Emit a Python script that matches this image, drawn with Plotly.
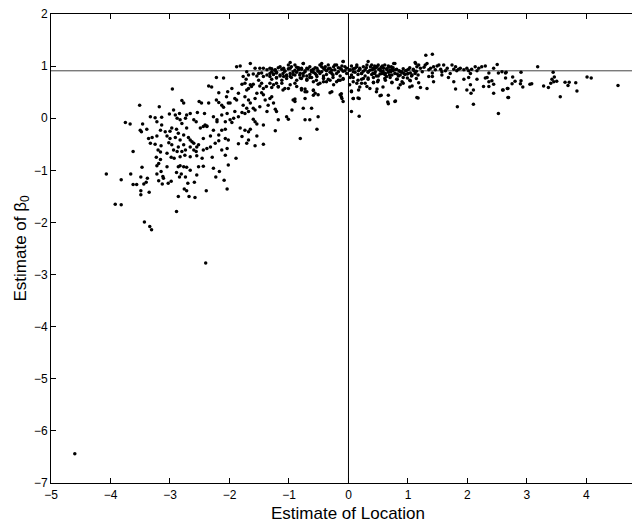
import plotly.graph_objects as go

# Estimates (location, beta0), grouped by region
upper_left = [
    (-2.22, 0.78), (-2.10, 0.77), (-2.96, 0.56), (-2.35, 0.62), (-2.30, 0.60), (-2.18, 0.49), (-2.03, 0.51),
    (-2.05, 0.41), (-3.51, 0.25), (-3.18, 0.22), (-2.80, 0.34), (-2.77, 0.29), (-2.51, 0.32), (-2.47, 0.29),
    (-2.35, 0.29), (-2.22, 0.35), (-2.18, 0.30), (-2.13, 0.25), (-2.10, 0.21), (-2.02, 0.29), (-2.94, 0.16),
    (-2.84, 0.09), (-3.33, 0.03), (-3.25, 0.01), (-3.14, 0.02), (-3.01, 0.08), (-2.91, 0.06), (-2.72, 0.06),
    (-2.66, 0.09), (-2.54, 0.11), (-2.42, 0.09), (-2.27, 0.03), (-2.21, -0.03), (-2.13, 0.06), (-2.04, 0.09),
    (-3.75, -0.08), (-3.67, -0.11), (-3.46, -0.11), (-3.22, -0.07), (-3.14, -0.13), (-2.88, 0.00), (-2.83, -0.03),
    (-2.80, -0.10), (-2.74, 0.00), (-2.60, -0.03), (-2.56, -0.07), (-2.41, -0.13), (-2.38, -0.16), (-2.21, -0.07),
    (-2.07, -0.07), (-3.50, -0.23), (-3.48, -0.26), (-3.39, -0.21), (-3.16, -0.23), (-3.08, -0.26), (-3.00, -0.25),
    (-2.97, -0.19), (-2.89, -0.21), (-2.86, -0.29), (-2.72, -0.19), (-2.49, -0.19), (-2.44, -0.16), (-2.38, -0.15),
    (-2.27, -0.23), (-2.13, -0.23), (-2.07, -0.21), (-3.36, -0.39), (-3.30, -0.37), (-3.22, -0.34), (-3.05, -0.34),
    (-3.00, -0.39), (-2.91, -0.37), (-2.83, -0.42), (-2.77, -0.32), (-2.69, -0.37), (-2.66, -0.42), (-2.63, -0.45),
    (-2.60, -0.48), (-2.44, -0.39), (-2.32, -0.34), (-2.18, -0.32), (-2.07, -0.39), (-2.02, -0.42), (-3.33, -0.48),
    (-3.25, -0.50), (-3.15, -0.53), (-3.02, -0.47), (-2.97, -0.51), (-2.86, -0.55), (-2.77, -0.51), (-2.66, -0.55),
    (-2.60, -0.61), (-2.55, -0.55), (-2.52, -0.51), (-2.38, -0.58), (-2.32, -0.55), (-2.24, -0.48), (-2.18, -0.43),
    (-3.62, -0.64), (-3.20, -0.61), (-3.16, -0.65), (-3.05, -0.67), (-2.94, -0.61), (-2.88, -0.64), (-2.80, -0.64),
    (-2.74, -0.61), (-2.56, -0.64), (-2.44, -0.61), (-2.13, -0.61), (-2.04, -0.58), (-3.23, -0.75), (-3.16, -0.79),
    (-2.98, -0.75), (-2.93, -0.77), (-2.83, -0.74), (-2.75, -0.71), (-2.66, -0.74), (-2.55, -0.72), (-2.46, -0.77),
    (-2.29, -0.75), (-2.07, -0.71), (-3.47, -0.94), (-3.22, -0.91), (-3.19, -0.87), (-3.05, -0.93), (-2.86, -0.93),
    (-2.83, -0.91), (-2.77, -0.93), (-2.72, -0.94), (-2.52, -0.93), (-2.44, -0.92), (-2.27, -0.96), (-2.02, -0.90),
]

lower_left = [
    (-4.07, -1.07), (-3.66, -1.07), (-3.49, -1.13), (-3.38, -1.15), (-3.22, -1.07), (-3.15, -1.02), (-3.12, -1.12),
    (-3.11, -1.15), (-2.89, -1.04), (-2.81, -1.07), (-2.84, -1.13), (-2.74, -1.13), (-2.66, -1.00), (-2.55, -1.09),
    (-2.23, -1.13), (-2.17, -1.02), (-2.09, -1.19), (-2.04, -1.36), (-3.82, -1.18), (-3.62, -1.27), (-3.56, -1.27),
    (-3.44, -1.26), (-3.40, -1.23), (-3.19, -1.20), (-3.13, -1.26), (-3.03, -1.25), (-2.98, -1.21), (-2.70, -1.25),
    (-2.59, -1.23), (-2.76, -1.36), (-2.72, -1.39), (-2.86, -1.50), (-2.68, -1.50), (-2.58, -1.52), (-2.39, -1.39),
    (-3.49, -1.39), (-3.35, -1.42), (-3.49, -1.47), (-3.92, -1.65), (-3.82, -1.66), (-2.89, -1.79), (-3.43, -1.99),
    (-3.34, -2.08), (-3.31, -2.14), (-2.40, -2.78), (-4.60, -6.44),
]

center = [
    (-1.88, 0.99), (-1.82, 1.00), (-1.65, 1.05), (-1.57, 0.96), (-1.49, 0.96), (-1.43, 0.96), (-1.37, 0.93),
    (-1.32, 0.96), (-1.29, 0.89), (-1.23, 0.93), (-1.21, 0.87), (-1.15, 0.99), (-1.09, 0.96), (-1.07, 0.91),
    (-1.01, 1.02), (-0.98, 0.96), (-0.93, 0.89), (-0.90, 1.02), (-0.87, 0.98), (-0.84, 0.93), (-0.81, 0.86),
    (-0.79, 0.96), (-0.76, 1.05), (-0.73, 0.91), (-0.70, 0.96), (-0.65, 0.99), (-0.62, 0.89), (-0.59, 0.94),
    (-0.56, 0.86), (-0.53, 0.96), (-0.51, 0.91), (-0.48, 1.02), (-0.45, 0.89), (-0.42, 0.96), (-0.39, 0.99),
    (-0.37, 0.91), (-0.34, 1.02), (-0.31, 0.96), (-0.28, 0.86), (-0.25, 0.99), (-0.23, 0.93), (-0.20, 1.02),
    (-0.17, 0.89), (-0.14, 0.96), (-0.11, 1.00), (-0.09, 1.09), (-0.06, 0.91), (-0.03, 0.96), (0.03, 0.93),
    (0.05, 1.00), (0.08, 0.89), (0.11, 0.96), (0.14, 1.02), (0.17, 0.91), (0.19, 0.96), (0.22, 0.86),
    (0.25, 0.99), (0.28, 0.93), (0.31, 1.02), (0.33, 0.89),
    (-1.71, 0.89), (-1.68, 0.83), (-1.60, 0.85), (-1.54, 0.81), (-1.51, 0.86), (-1.46, 0.87), (-1.43, 0.80),
    (-1.37, 0.83), (-1.32, 0.80), (-1.26, 0.85), (-1.21, 0.77), (-1.15, 0.81), (-1.09, 0.80), (-1.04, 0.83),
    (-0.98, 0.80), (-0.90, 0.83), (-0.81, 0.77), (-0.76, 0.81), (-0.70, 0.73), (-0.65, 0.78), (-0.59, 0.70),
    (-0.53, 0.80), (-0.48, 0.67), (-0.42, 0.77), (-0.37, 0.70), (-0.31, 0.73), (-0.25, 0.64), (-0.20, 0.70),
    (-0.14, 0.73), (-0.09, 0.75), (0.03, 0.78), (0.08, 0.70), (0.14, 0.67), (0.22, 0.75), (0.28, 0.67),
    (0.33, 0.77),
    (-1.77, 0.80), (-1.72, 0.75), (-1.74, 0.67), (-1.79, 0.65), (-1.65, 0.64), (-1.60, 0.65), (-1.63, 0.61),
    (-1.68, 0.57), (-1.71, 0.54), (-1.51, 0.73), (-1.46, 0.67), (-1.49, 0.62), (-1.43, 0.57), (-1.38, 0.61),
    (-1.32, 0.67), (-1.29, 0.59), (-1.21, 0.67), (-1.18, 0.61), (-1.12, 0.67), (-1.07, 0.57), (-0.98, 0.64),
    (-0.87, 0.61), (-0.79, 0.54), (-0.73, 0.56), (-0.70, 0.51), (-0.59, 0.53), (-0.56, 0.48), (-0.51, 0.45),
    (-0.31, 0.49), (-0.14, 0.45), (-0.11, 0.38), (-0.09, 0.32), (0.05, 0.51), (0.08, 0.38), (0.17, 0.54),
    (0.18, 0.38), (0.31, 0.61),
    (-1.96, 0.57), (-1.91, 0.38), (-1.88, 0.35), (-1.99, 0.29), (-1.85, 0.48), (-1.74, 0.41), (-1.68, 0.35),
    (-1.65, 0.29), (-1.57, 0.38), (-1.54, 0.48), (-1.46, 0.49), (-1.43, 0.45), (-1.40, 0.35), (-1.32, 0.38),
    (-1.29, 0.41), (-1.26, 0.29), (-1.35, 0.25), (-1.49, 0.22), (-1.60, 0.19), (-1.57, 0.16), (-1.77, 0.25),
    (-1.71, 0.19), (-1.79, 0.11), (-1.74, 0.09), (-1.68, 0.13), (-1.91, 0.13), (-1.85, 0.03), (-1.93, 0.00),
    (-1.99, -0.03), (-1.96, -0.08), (-1.82, -0.19), (-1.74, -0.23), (-1.68, -0.26), (-1.65, -0.21), (-1.60, -0.02),
    (-1.57, -0.07), (-1.54, -0.11), (-1.43, -0.13), (-1.37, 0.13), (-1.23, 0.17), (-1.21, 0.13), (-1.18, -0.03),
    (-1.04, 0.03), (-1.01, -0.02), (-0.95, 0.16), (-0.93, 0.35), (-0.90, 0.32), (-0.76, 0.19), (-0.73, -0.03),
    (-0.65, -0.03), (-0.62, 0.19), (-0.51, 0.03), (-0.53, -0.21), (-1.23, -0.24), (-0.81, -0.39), (-1.79, -0.35),
    (-1.68, -0.42), (-1.54, -0.34), (-1.43, -0.50), (-1.57, -0.53), (-1.85, -0.49), (-1.71, -0.48), (-1.89, -0.77),
    (0.05, 0.13), (0.18, 0.04),
]

band = [
    (-1.29, 0.95), (-1.24, 0.92), (-1.18, 0.97), (-1.12, 0.94), (-1.07, 0.90), (-1.01, 0.95), (-0.96, 0.99),
    (-0.90, 0.92), (-0.84, 0.97), (-0.79, 0.94), (-0.73, 0.89), (-0.68, 0.95), (-0.62, 0.92), (-0.56, 0.97),
    (-0.51, 0.90), (-0.45, 0.99), (-0.40, 0.94), (-0.34, 0.95), (-0.28, 0.92), (-0.23, 1.02), (-0.17, 0.97),
    (-0.12, 0.94), (-0.06, 0.99), (0.02, 0.92), (0.08, 0.95), (0.14, 0.99), (0.19, 0.94), (0.25, 0.90),
    (0.30, 0.97), (0.36, 0.92), (0.42, 0.95), (0.47, 0.99), (0.53, 0.94), (0.58, 0.90), (0.64, 0.95),
    (0.70, 0.92), (0.75, 0.97), (0.81, 0.94), (0.86, 0.90), (0.92, 0.95), (0.98, 0.92), (1.03, 0.97),
    (1.09, 0.94), (1.14, 0.90),
    (-1.32, 0.86), (-1.26, 0.84), (-1.21, 0.88), (-1.15, 0.83), (-1.10, 0.86), (-1.04, 0.81), (-0.98, 0.86),
    (-0.93, 0.84), (-0.87, 0.88), (-0.82, 0.83), (-0.76, 0.86), (-0.70, 0.81), (-0.65, 0.84), (-0.59, 0.88),
    (-0.54, 0.83), (-0.48, 0.86), (-0.42, 0.81), (-0.37, 0.84), (-0.31, 0.88), (-0.26, 0.83), (-0.20, 0.86),
    (-0.14, 0.81), (-0.09, 0.90), (-0.03, 0.86), (0.05, 0.83), (0.11, 0.88), (0.16, 0.84), (0.22, 0.86),
    (0.28, 0.81), (0.33, 0.88), (0.39, 0.84), (0.44, 0.86), (0.50, 0.81), (0.56, 0.86), (0.61, 0.84),
    (0.67, 0.88), (0.73, 0.83), (0.78, 0.86), (0.84, 0.81), (0.89, 0.88), (0.95, 0.84), (1.00, 0.86),
    (1.06, 0.81), (1.12, 0.86), (1.17, 0.83),
    (-1.29, 0.75), (-1.21, 0.78), (-1.12, 0.73), (-1.04, 0.76), (-0.96, 0.78), (-0.87, 0.73), (-0.79, 0.76),
    (-0.70, 0.75), (-0.62, 0.78), (-0.54, 0.73), (-0.42, 0.76), (-0.34, 0.75), (-0.26, 0.78), (-0.17, 0.73),
    (-0.09, 0.76), (0.08, 0.78), (0.16, 0.73), (0.25, 0.76), (0.33, 0.75), (0.42, 0.78), (0.50, 0.73),
    (0.61, 0.76), (0.70, 0.78), (0.81, 0.75), (0.92, 0.78), (1.03, 0.73), (1.14, 0.76),
    (-0.98, 1.07), (-0.76, 1.05), (-0.09, 1.09), (0.33, 1.09), (0.78, 1.05), (1.12, 1.07), (-0.45, 1.05),
    (-1.26, 0.64), (-1.18, 0.60), (-1.10, 0.54), (-1.01, 0.57), (-0.90, 0.67), (-0.79, 0.57), (-0.73, 0.51),
    (-0.59, 0.54), (-0.51, 0.65), (-0.42, 0.70), (-0.28, 0.51), (-0.12, 0.47), (-0.12, 0.41), (0.02, 0.64),
    (0.05, 0.52), (0.19, 0.60), (0.22, 0.67), (0.36, 0.57), (0.42, 0.69), (0.47, 0.51), (0.58, 0.60),
    (0.67, 0.44), (0.73, 0.69), (0.84, 0.58), (0.92, 0.67), (1.03, 0.60), (1.17, 0.39), (-0.90, 0.37),
    (-0.73, 0.38), (-0.59, 0.44), (0.08, 0.38), (0.16, 0.39), (0.53, 0.43), (0.78, 0.32), (0.67, 0.28),
]

right = [
    (0.37, 0.99), (0.40, 0.93), (0.42, 0.96), (0.45, 0.89), (0.48, 0.99), (0.51, 0.94), (0.54, 0.91),
    (0.57, 1.00), (0.59, 0.96), (0.62, 0.86), (0.65, 0.93), (0.68, 0.98), (0.71, 0.89), (0.73, 0.94),
    (0.76, 1.05), (0.41, 0.86), (0.47, 0.81), (0.53, 0.85), (0.58, 0.87), (0.64, 0.80), (0.69, 0.83),
    (0.75, 0.91), (0.39, 1.02), (0.44, 1.00), (0.50, 1.02), (0.55, 0.98), (0.61, 1.02), (0.67, 1.00),
    (0.72, 0.99), (0.45, 0.96),
    (0.79, 0.93), (0.82, 0.85), (0.85, 0.91), (0.87, 0.83), (0.90, 0.89), (0.93, 0.86), (0.96, 0.91),
    (0.99, 0.85), (1.01, 0.94), (1.04, 0.87), (1.07, 0.83), (1.10, 0.91), (1.13, 1.05), (1.15, 0.99),
    (1.18, 1.02), (1.21, 0.96), (1.24, 0.89), (1.27, 0.98), (1.29, 1.02), (1.30, 1.21), (1.32, 1.05),
    (1.35, 0.93), (1.38, 0.96), (1.41, 1.23), (1.41, 0.87), (1.43, 0.99), (1.46, 0.93), (1.49, 1.00),
    (1.52, 1.02), (1.55, 0.94), (1.57, 0.89), (1.60, 1.02), (1.63, 0.91), (1.66, 0.96), (1.71, 0.86),
    (1.74, 1.02), (1.77, 0.94), (1.80, 0.99), (1.82, 0.91), (1.85, 0.94), (1.88, 0.96), (1.94, 0.93),
    (1.99, 0.96), (2.02, 0.91), (2.05, 0.86), (2.07, 0.94), (2.13, 0.99), (2.16, 0.91), (2.19, 0.96),
    (2.24, 0.99), (2.30, 1.00), (2.36, 0.87), (2.44, 0.96), (2.50, 1.03), (2.52, 0.87), (2.58, 0.89),
    (2.64, 0.87),
    (0.42, 0.68), (0.49, 0.70), (0.48, 0.56), (0.55, 0.44), (0.62, 0.73), (0.66, 0.31), (0.73, 0.68),
    (0.79, 0.33), (0.82, 0.75), (0.87, 0.64), (0.90, 0.70), (0.99, 0.77), (1.04, 0.72), (1.07, 0.62),
    (1.15, 0.40), (1.18, 0.68), (1.21, 0.59), (1.32, 0.57), (1.35, 0.80), (1.41, 0.80), (1.43, 0.70),
    (1.57, 0.83), (1.68, 0.78), (1.77, 0.70), (1.80, 0.56), (1.83, 0.22), (1.94, 0.75), (1.99, 0.54),
    (2.02, 0.78), (2.05, 0.64), (2.06, 0.48), (2.10, 0.54), (2.10, 0.27), (2.16, 0.75), (2.27, 0.61),
    (2.30, 0.77), (2.33, 0.78), (2.36, 0.70), (2.36, 0.61), (2.41, 0.72), (2.44, 0.65), (2.44, 0.48),
    (2.52, 0.09), (2.60, 0.54), (2.64, 0.77), (2.67, 0.57), (2.69, 0.40),
    (3.18, 0.99), (2.65, 0.88), (2.90, 0.88), (3.44, 0.88), (2.76, 0.79), (2.80, 0.71), (2.90, 0.72),
    (2.75, 0.66), (2.89, 0.66), (2.93, 0.60), (2.68, 0.57), (2.59, 0.54), (2.68, 0.40), (3.05, 0.65),
    (3.08, 0.66), (3.28, 0.62), (3.36, 0.59), (3.40, 0.67), (3.42, 0.75), (3.46, 0.79), (3.45, 0.70),
    (3.50, 0.71), (3.64, 0.69), (3.71, 0.69), (3.69, 0.63), (3.82, 0.68), (3.84, 0.52), (3.56, 0.41),
    (4.01, 0.79), (4.08, 0.77), (4.53, 0.63),
]

ref_location = 0.0
ref_beta0 = 0.91

x_ticks = [-5, -4, -3, -2, -1, 0, 1, 2, 3, 4]
y_ticks = [-7, -6, -5, -4, -3, -2, -1, 0, 1, 2]
x_title = "Estimate of Location"
y_title = "Estimate of β<sub>0</sub>"

pts = upper_left + lower_left + center + band + right
xs = [p[0] for p in pts]
ys = [p[1] for p in pts]

fig = go.Figure()
fig.add_trace(go.Scatter(
    x=xs, y=ys, mode="markers",
    marker=dict(size=3.5, color="black", line=dict(width=0)),
    showlegend=False, hoverinfo="skip",
))

fig.add_shape(type="line", xref="x", yref="paper", x0=ref_location, x1=ref_location, y0=0, y1=1,
              line=dict(color="black", width=1), layer="below")
fig.add_shape(type="line", xref="paper", yref="y", x0=0, x1=1, y0=ref_beta0, y1=ref_beta0,
              line=dict(color="#444444", width=1), layer="below")

font_family = "Liberation Sans, Arial, Helvetica, sans-serif"

# axis titles as annotations for exact placement
fig.add_annotation(text=x_title, xref="x", yref="paper", x=0, y=0, yshift=-30,
                   xanchor="center", yanchor="middle", showarrow=False, borderpad=0,
                   font=dict(size=17, color="black", family=font_family))
fig.add_annotation(text=y_title, xref="paper", yref="paper", x=0, y=0.5, xshift=-30,
                   textangle=-90, xanchor="center", yanchor="middle", showarrow=False, borderpad=0,
                   font=dict(size=17, color="black", family=font_family))

# the page body adds an 8px offset, so the figure is 8px smaller than the window
fig.update_layout(
    width=632, height=515,
    margin=dict(l=43, r=0, t=6, b=40, autoexpand=False),
    paper_bgcolor="white", plot_bgcolor="white",
    font=dict(family=font_family, size=12, color="black"),
    xaxis=dict(
        range=[-5, 4.9], tickvals=x_ticks, ticks="inside", ticklen=5, tickcolor="black",
        showline=True, linecolor="black", linewidth=1, mirror="ticks",
        showgrid=False, zeroline=False, ticklabelstandoff=1, ticklabeloverflow="allow",
    ),
    yaxis=dict(
        range=[-7, 2], tickvals=y_ticks, ticks="inside", ticklen=5, tickcolor="black",
        showline=True, linecolor="black", linewidth=1, mirror=False,
        showgrid=False, zeroline=False, ticklabeloverflow="allow",
    ),
)

fig.write_html("out.html")
